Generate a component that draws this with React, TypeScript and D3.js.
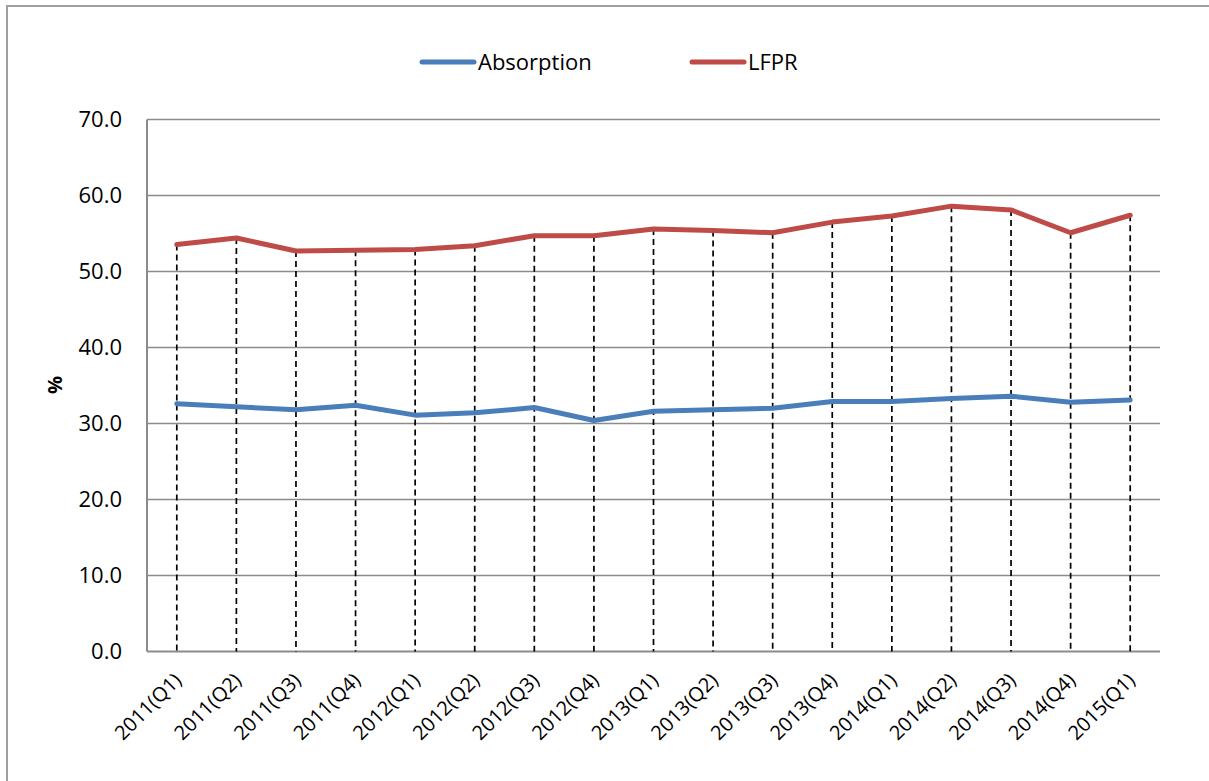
import React from "react";
import * as d3 from "d3";

const categories = [
  "2011(Q1)", "2011(Q2)", "2011(Q3)", "2011(Q4)",
  "2012(Q1)", "2012(Q2)", "2012(Q3)", "2012(Q4)",
  "2013(Q1)", "2013(Q2)", "2013(Q3)", "2013(Q4)",
  "2014(Q1)", "2014(Q2)", "2014(Q3)", "2014(Q4)",
  "2015(Q1)",
];
const absorption = [32.6, 32.2, 31.8, 32.4, 31.1, 31.4, 32.1, 30.4, 31.6, 31.8, 32.0, 32.9, 32.9, 33.3, 33.6, 32.8, 33.1];
const lfpr = [53.55, 54.4, 52.7, 52.8, 52.9, 53.4, 54.7, 54.7, 55.6, 55.4, 55.1, 56.5, 57.3, 58.6, 58.1, 55.1, 57.4];
const yTicks = [0, 10, 20, 30, 40, 50, 60, 70];
const seriesNames = ["Absorption", "LFPR"];
const seriesColors = ["#4a7ebb", "#be4b48"];

const W = 1209;
const H = 781;
const left = 147;
const right = 1160;
const top = 119.5;
const bottom = 651.5;
const FONT = "'Open Sans', sans-serif";

export default function App() {
  const x = d3.scaleBand<string>().domain(categories).range([left, right]);
  const cx = (c: string) => (x(c) as number) + x.bandwidth() / 2;
  const y = d3.scaleLinear().domain([0, 70]).range([bottom, top]);
  const series = [absorption, lfpr];
  const line = d3
    .line<number>()
    .x((_, i) => cx(categories[i]))
    .y((d) => y(d));

  return (
    <svg
      width={W}
      height={H}
      style={{ position: "absolute", left: 0, top: 0, background: "#fff" }}
    >
      {/* outer frame */}
      <rect x={7} y={6} width={W + 20} height={H + 20} fill="none" stroke="#a0a0a0" strokeWidth={2} />

      {/* gridlines */}
      {yTicks.map((t) => (
        <line key={t} x1={left} x2={right} y1={y(t)} y2={y(t)} stroke="#8c8c8c" strokeWidth={t === 0 ? 2 : 1.5} />
      ))}
      {/* y axis line */}
      <line x1={left} x2={left} y1={top} y2={bottom} stroke="#8c8c8c" strokeWidth={2} />

      {/* y tick labels */}
      {yTicks.map((t) => (
        <text key={t} x={122} y={y(t)} dy="0.36em" textAnchor="end" fontFamily={FONT} fontSize={22} fill="#000">
          {t.toFixed(1)}
        </text>
      ))}

      {/* y axis title */}
      <text
        transform={`translate(62,385) rotate(-90)`}
        textAnchor="middle"
        fontFamily={FONT}
        fontSize={20}
        fontWeight="bold"
        fill="#000"
      >
        %
      </text>

      {/* drop lines */}
      {categories.map((c, i) => (
        <line
          key={c}
          x1={cx(c)}
          x2={cx(c)}
          y1={y(Math.max(absorption[i], lfpr[i]))}
          y2={y(0)}
          stroke="#000"
          strokeWidth={1.7}
          strokeDasharray="6,4"
        />
      ))}

      {/* series */}
      {series.map((s, k) => (
        <path
          key={k}
          d={line(s) as string}
          fill="none"
          stroke={seriesColors[k]}
          strokeWidth={5}
          strokeLinejoin="round"
          strokeLinecap="round"
        />
      ))}

      {/* x labels */}
      {categories.map((c) => (
        <text
          key={c}
          transform={`translate(${cx(c) + 6},${bottom + 30}) rotate(-45)`}
          textAnchor="end"
          fontFamily={FONT}
          fontSize={20}
          fill="#000"
        >
          {c}
        </text>
      ))}

      {/* legend */}
      {seriesNames.map((n, k) => {
        const lx = k === 0 ? 422 : 692;
        return (
          <g key={n}>
            <line x1={lx} x2={lx + 52} y1={62} y2={62} stroke={seriesColors[k]} strokeWidth={5} strokeLinecap="round" />
            <text x={lx + 56} y={62} dy="0.36em" fontFamily={FONT} fontSize={22} fill="#000">
              {n}
            </text>
          </g>
        );
      })}
    </svg>
  );
}
